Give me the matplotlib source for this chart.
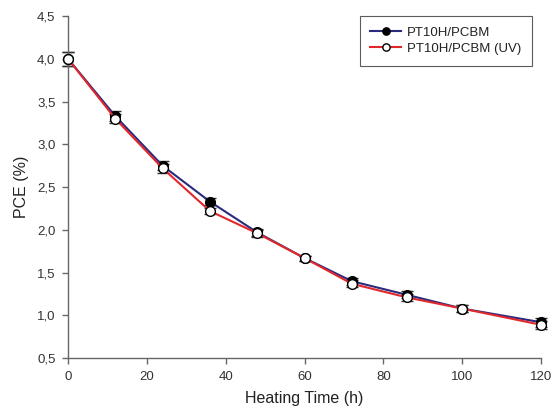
import matplotlib.pyplot as plt
from matplotlib.ticker import FuncFormatter

plt.rcParams['font.family'] = ['Liberation Sans', 'DejaVu Sans']

# heating time (h)
hours = [0, 12, 24, 36, 48, 60, 72, 86, 100, 120]
# PCE (%) values
pce_ref = [4.00, 3.33, 2.75, 2.33, 1.97, 1.67, 1.40, 1.24, 1.08, 0.92]
pce_uv = [4.00, 3.30, 2.72, 2.22, 1.96, 1.67, 1.37, 1.21, 1.08, 0.89]
err_ref = [0.08, 0.06, 0.05, 0.04, 0.04, 0.03, 0.04, 0.04, 0.04, 0.05]
err_uv = [0.08, 0.05, 0.05, 0.04, 0.04, 0.03, 0.04, 0.04, 0.04, 0.05]

labels = ['PT10H/PCBM', 'PT10H/PCBM (UV)']
x_ticks = [0, 20, 40, 60, 80, 100, 120]
y_ticks = [0.5, 1.0, 1.5, 2.0, 2.5, 3.0, 3.5, 4.0, 4.5]

fig = plt.figure(figsize=(5.55, 4.16), dpi=100)
ax = fig.add_axes([0.1225, 0.139, 0.8525, 0.8225])

# error bars first, lines + markers on top
for vals, errs in [(pce_ref, err_ref), (pce_uv, err_uv)]:
    eb = ax.errorbar(hours, vals, yerr=errs, fmt='none', ecolor='#333333',
                     elinewidth=1.0, capsize=4.5, capthick=1.0, zorder=2)
    for art in eb.lines[1] + eb.lines[2]:
        art.set_clip_on(False)
ax.plot(hours, pce_ref, color='#2a2a80', lw=1.5, marker='o', ms=7,
        mfc='black', mec='black', label=labels[0], zorder=3, clip_on=False)
ax.plot(hours, pce_uv, color='#e0282c', lw=1.5, marker='o', ms=7,
        mfc='white', mec='black', mew=1.0, label=labels[1], zorder=4, clip_on=False)

ax.set_xlim(0, 120)
ax.set_ylim(0.5, 4.5)
ax.set_xticks(x_ticks)
ax.set_yticks(y_ticks)
ax.yaxis.set_major_formatter(FuncFormatter(lambda v, _: f'{v:.1f}'.replace('.', ',')))

for side in ['top', 'right']:
    ax.spines[side].set_visible(False)
for side in ['left', 'bottom']:
    ax.spines[side].set_color('#666666')
    ax.spines[side].set_linewidth(1.0)
ax.tick_params(direction='out', length=4, width=1.0, color='#666666',
               labelsize=9.5, labelcolor='#333333', pad=5)

ax.set_xlabel('Heating Time (h)', fontsize=11.5, color='#222222', labelpad=6)
ax.set_ylabel('PCE (%)', fontsize=11.5, color='#222222', labelpad=6)

leg = ax.legend(loc='upper right', bbox_to_anchor=(0.981, 1.0), borderaxespad=0,
                fontsize=9.5, frameon=True, fancybox=False, edgecolor='#333333',
                handlelength=2.3, handletextpad=0.5, borderpad=0.8,
                labelspacing=0.3, markerscale=0.75)
leg.get_frame().set_linewidth(0.8)
for t in leg.get_texts():
    t.set_color('#222222')

fig.savefig('out.png', dpi=100)
